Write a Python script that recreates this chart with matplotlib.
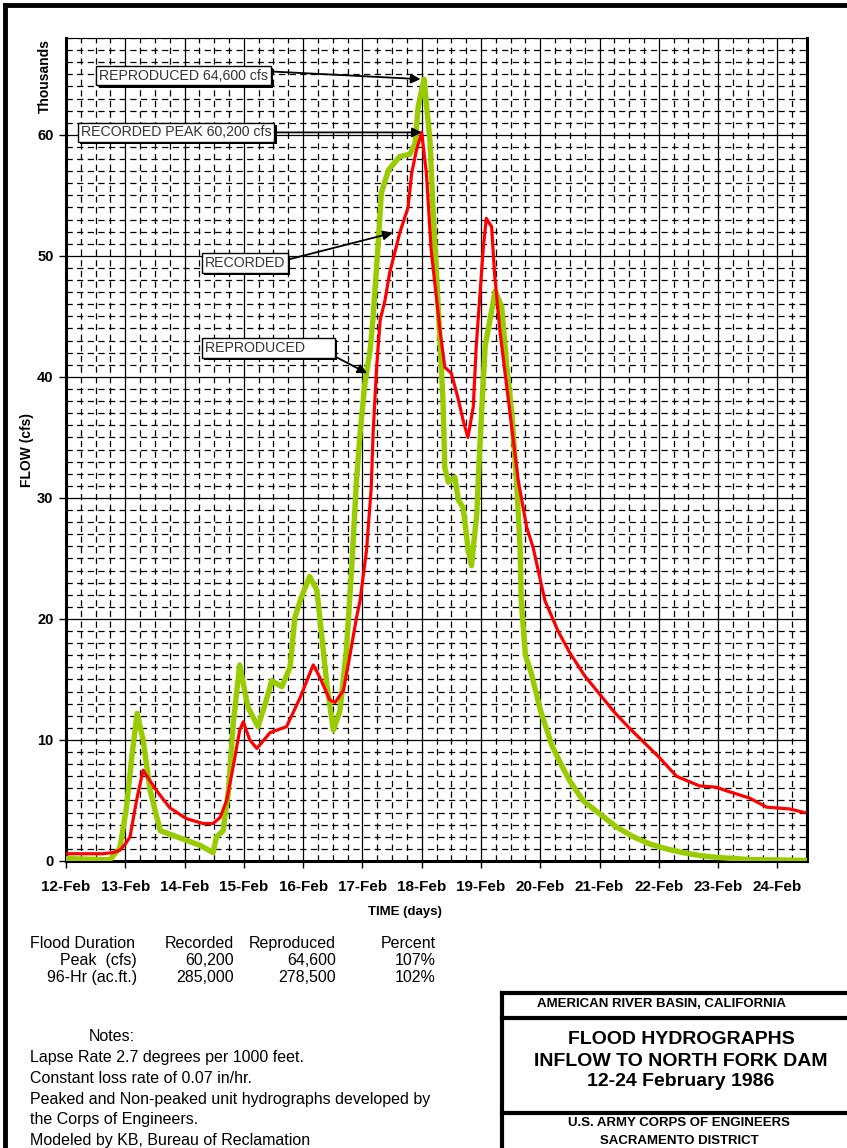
import matplotlib
matplotlib.use("Agg")
import matplotlib.pyplot as plt
import matplotlib.patheffects as pe
from matplotlib.lines import Line2D
from matplotlib.ticker import MultipleLocator

plt.rcParams['font.family'] = ['Liberation Sans', 'DejaVu Sans']

# days after 12-Feb 00:00, flow in thousands of cfs
rec_day = [0, 0.62, 0.8, 0.91, 1.0, 1.08, 1.19, 1.3, 1.42, 1.53,
           1.75, 2.03, 2.31, 2.48, 2.6, 2.71, 2.82, 2.93, 2.99, 3.1,
           3.22, 3.44, 3.72, 3.95, 4.17, 4.28, 4.45, 4.54, 4.68, 4.79,
           4.9, 4.96, 5.07, 5.15, 5.18, 5.24, 5.3, 5.38, 5.46, 5.63,
           5.77, 5.83, 5.91, 6.0, 6.08, 6.16, 6.31, 6.39, 6.5, 6.61,
           6.7, 6.78, 6.87, 6.92, 6.98, 7.04, 7.09, 7.18, 7.23, 7.32,
           7.49, 7.63, 7.77, 7.88, 8.08, 8.3, 8.5, 8.75, 9.0, 9.25,
           9.5, 9.75, 10.0, 10.3, 10.69, 10.97, 11.14, 11.53, 11.82, 12.21,
           12.46]
rec_flow = [0.6, 0.6, 0.7, 0.9, 1.4, 2.0, 5.0, 7.5, 6.6, 5.8,
            4.4, 3.5, 3.1, 3.1, 3.6, 5.0, 7.8, 10.8, 11.5, 10.0,
            9.3, 10.6, 11.1, 13.5, 16.2, 15.2, 13.3, 13.1, 14.1, 17.0,
            20.1, 21.5, 25.7, 30.9, 35.3, 40.8, 44.7, 46.3, 48.6, 51.9,
            54.0, 56.8, 58.7, 60.2, 56.8, 50.5, 43.8, 40.8, 40.3, 38.3,
            36.4, 35.0, 37.5, 42.5, 46.6, 50.7, 53.1, 52.4, 48.5, 43.8,
            37.0, 31.4, 27.6, 25.9, 21.5, 19.0, 17.2, 15.3, 13.8, 12.3,
            11.0, 9.8, 8.6, 7.0, 6.2, 6.1, 5.8, 5.2, 4.45, 4.3,
            4.0]

rep_day = [0, 0.74, 0.91, 1.02, 1.11, 1.2, 1.3, 1.42, 1.59, 1.87,
           2.26, 2.48, 2.54, 2.65, 2.74, 2.82, 2.93, 3.07, 3.24, 3.38,
           3.47, 3.64, 3.78, 3.86, 3.97, 4.11, 4.23, 4.31, 4.4, 4.51,
           4.62, 4.73, 4.82, 4.9, 4.96, 5.04, 5.13, 5.18, 5.27, 5.32,
           5.44, 5.63, 5.8, 5.89, 5.94, 6.04, 6.14, 6.19, 6.25, 6.36,
           6.39, 6.45, 6.56, 6.62, 6.7, 6.78, 6.84, 6.93, 6.98, 7.07,
           7.24, 7.35, 7.43, 7.52, 7.6, 7.66, 7.68, 7.75, 7.85, 8.0,
           8.2, 8.35, 8.5, 8.72, 9.0, 9.29, 9.57, 9.85, 10.13, 10.4,
           10.69, 10.97, 11.53, 12.46]
rep_flow = [0.2, 0.1, 1.1, 4.4, 8.6, 12.2, 10.0, 5.8, 2.5, 2.0,
            1.3, 0.7, 2.0, 2.5, 5.8, 11.3, 16.2, 12.7, 11.1, 13.3,
            14.9, 14.4, 16.0, 20.1, 21.8, 23.5, 22.4, 18.8, 14.6, 10.8,
            12.4, 17.4, 24.3, 31.4, 35.3, 39.4, 42.2, 44.9, 51.3, 55.2,
            57.1, 58.2, 58.4, 59.3, 62.3, 64.6, 59.5, 54.0, 48.5, 38.0,
            32.5, 31.3, 31.7, 29.8, 29.2, 25.9, 24.4, 28.7, 34.2, 42.5,
            47.1, 45.8, 41.1, 37.0, 31.4, 25.9, 21.5, 17.0, 15.5, 12.5,
            9.5, 8.0, 6.6, 5.0, 3.9, 2.8, 2.0, 1.4, 1.0, 0.7,
            0.45, 0.3, 0.12, 0.05]

day_labels = ['12-Feb', '13-Feb', '14-Feb', '15-Feb', '16-Feb', '17-Feb', '18-Feb',
              '19-Feb', '20-Feb', '21-Feb', '22-Feb', '23-Feb', '24-Feb']

rec_peak = 60.2
rep_peak = 64.6

table_head = ['Flood Duration', 'Recorded', 'Reproduced', 'Percent']
table_rows = [['Peak  (cfs)', '60,200', '64,600', '107%'],
              ['96-Hr (ac.ft.)', '285,000', '278,500', '102%']]

notes = ['Lapse Rate 2.7 degrees per 1000 feet.',
         'Constant loss rate of 0.07 in/hr.',
         'Peaked and Non-peaked unit hydrographs developed by',
         'the Corps of Engineers.',
         'Modeled by KB, Bureau of Reclamation']

W, H = 847, 1148
fig = plt.figure(figsize=(W / 100, H / 100), dpi=100)


def fx(px):
    return px / W


def fy(py):
    return 1 - py / H


ax = fig.add_axes([fx(66), fy(861), fx(807) - fx(66), fy(38) - fy(861)])

ax.plot(rep_day, rep_flow, color='#99cc00', lw=3.9, solid_joinstyle='round', zorder=3)
ax.plot(rec_day, rec_flow, color='#ff0000', lw=2.3, solid_joinstyle='round', zorder=4)

ax.set_xlim(0, 12.5)
ax.set_ylim(0, 68)
ax.set_xticks(range(len(day_labels)))
ax.set_xticklabels(day_labels, fontsize=11, fontweight='bold')
ax.xaxis.set_minor_locator(MultipleLocator(0.25))
ax.yaxis.set_major_locator(MultipleLocator(10))
ax.yaxis.set_minor_locator(MultipleLocator(1))
ax.tick_params(axis='y', labelsize=10.5)
for t in ax.get_yticklabels():
    t.set_fontweight('bold')
ax.tick_params(which='major', direction='out', length=5, width=1, color='black', pad=4)
ax.tick_params(axis='x', which='major', pad=9)
ax.tick_params(which='minor', length=0)

ax.grid(which='major', color='black', lw=0.9, ls='-')
ax.grid(which='minor', color='black', lw=0.9, ls=(0, (5, 3.5)))
ax.set_axisbelow(True)
for side in ['left', 'right', 'bottom']:
    ax.spines[side].set_linewidth(2.2)
ax.spines['top'].set_linewidth(0.8)

fig.text(fx(405), fy(912), 'TIME (days)', fontsize=9.5, fontweight='bold',
         ha='center', va='center')
fig.text(fx(27), fy(450), 'FLOW (cfs)', rotation=90, fontsize=10, fontweight='bold',
         ha='center', va='center')
fig.text(fx(45), fy(76), 'Thousands', rotation=90, fontsize=10, fontweight='bold',
         ha='center', va='center')

shadow = [pe.SimplePatchShadow(offset=(1.6, -1.6), shadow_rgbFace='black', alpha=1.0),
          pe.Normal()]


def callout(text, xy, xytext, rel):
    a = ax.annotate(text, xy=xy, xytext=xytext, textcoords='data',
                    fontsize=10.2, color='#333333', va='center', ha='left',
                    bbox=dict(boxstyle='square,pad=0.2', fc='white', ec='black', lw=1.0),
                    arrowprops=dict(arrowstyle='-|>', color='black', lw=1.3,
                                    mutation_scale=14, relpos=rel, shrinkA=0, shrinkB=0),
                    zorder=6)
    a.get_bbox_patch().set_path_effects(shadow)
    return a


callout('REPRODUCED %s cfs' % format(int(round(rep_peak * 1000)), ','),
        (5.98, rep_peak), (0.56, 64.9), (1, 0.8))
callout('RECORDED PEAK %s cfs' % format(int(round(rec_peak * 1000)), ','),
        (6.0, rec_peak), (0.25, 60.2), (1, 0.5))
callout('RECORDED', (5.51, 51.9), (2.34, 49.4), (1, 0.7))
callout('REPRODUCED       ', (5.08, 40.3), (2.34, 42.4), (1, 0.0))

# peak / volume table under the plot (baseline-aligned rows)
fs_tab = 11.5
col_x = [30, 234, 336, 436]
fig.text(fx(col_x[0]), fy(948), table_head[0], fontsize=fs_tab, va='baseline', ha='left')
for cx, h in zip(col_x[1:], table_head[1:]):
    fig.text(fx(cx), fy(948), h, fontsize=fs_tab, va='baseline', ha='right')
for i, row in enumerate(table_rows):
    yy = fy(965 + 17 * i)
    fig.text(fx(137), yy, row[0], fontsize=fs_tab, va='baseline', ha='right')
    for cx, v in zip(col_x[1:], row[1:]):
        fig.text(fx(cx), yy, v, fontsize=fs_tab, va='baseline', ha='right')

fig.text(fx(112), fy(1041), 'Notes:', fontsize=fs_tab, va='baseline', ha='center')
for i, line in enumerate(notes):
    fig.text(fx(30), fy(1062 + 20.8 * i), line, fontsize=fs_tab, va='baseline', ha='left')

# title block
lw_blk = 3.0
fig.add_artist(Line2D([fx(502), 1], [fy(993), fy(993)], color='black', lw=lw_blk))
fig.add_artist(Line2D([fx(502), 1], [fy(1018), fy(1018)], color='black', lw=lw_blk))
fig.add_artist(Line2D([fx(502), 1], [fy(1113), fy(1113)], color='black', lw=lw_blk))
fig.add_artist(Line2D([fx(502), fx(502)], [fy(993), 0], color='black', lw=lw_blk))
fig.text(fx(661), fy(1004), 'AMERICAN RIVER BASIN, CALIFORNIA', fontsize=9.5,
         fontweight='bold', ha='center', va='center')
fig.text(fx(681), fy(1040), 'FLOOD HYDROGRAPHS', fontsize=14, fontweight='bold',
         ha='center', va='center')
fig.text(fx(681), fy(1061), 'INFLOW TO NORTH FORK DAM', fontsize=14, fontweight='bold',
         ha='center', va='center')
fig.text(fx(681), fy(1081), '12-24 February 1986', fontsize=14, fontweight='bold',
         ha='center', va='center')
fig.text(fx(679), fy(1123), 'U.S. ARMY CORPS OF ENGINEERS', fontsize=9.5,
         fontweight='bold', ha='center', va='center')
fig.text(fx(679), fy(1141), 'SACRAMENTO DISTRICT', fontsize=9.5,
         fontweight='bold', ha='center', va='center')

# page border (top and left edges)
fig.add_artist(Line2D([fx(5), 1], [fy(5), fy(5)], color='black', lw=3.5))
fig.add_artist(Line2D([fx(5), fx(5)], [fy(5), 0], color='black', lw=3.5))

fig.savefig('out.png', dpi=100)
